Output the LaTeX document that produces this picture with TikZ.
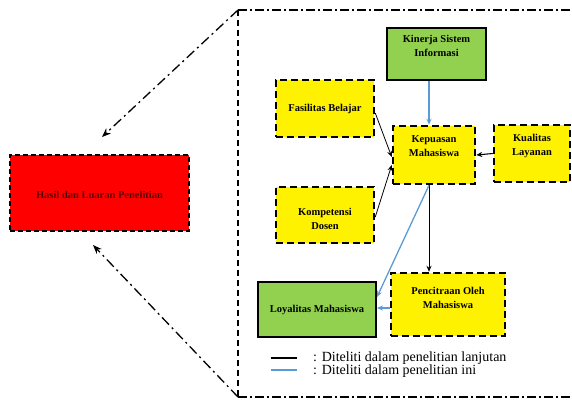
\documentclass[tikz,border=0pt]{standalone}
\usepackage{fontspec}
\setmainfont{Liberation Serif}
\usetikzlibrary{arrows.meta}
\definecolor{hijau}{HTML}{92D050}
\definecolor{biru}{HTML}{5B9BD5}
\definecolor{merahtua}{HTML}{5A0000}
\tikzset{
  kotakk/.style={draw=black, line width=2.5pt, dash pattern=on 7pt off 4pt, fill=yellow, inner sep=0pt},
  kotakh/.style={draw=black, line width=2pt, fill=hijau, inner sep=0pt},
  teks/.style={font=\fontsize{10.5}{14}\selectfont\bfseries, align=center, inner sep=0pt},
  panah/.style={-{Stealth[length=6pt,width=5pt]}, line width=0.8pt},
}
\begin{document}
\begin{tikzpicture}[x=1pt, y=-1pt]
    \useasboundingbox (0,0) rectangle (572,400);

    % Bingkai penelitian
    \coordinate (ftl) at (238,10);
    \coordinate (fbl) at (238,397);
    \coordinate (ftr) at (572,10);
    \coordinate (fbr) at (572,397);
    \draw[line width=1.3pt, dash pattern=on 6pt off 4pt] (ftl) -- (fbl);
    \draw[line width=1.5pt, dash pattern=on 9pt off 3pt on 2pt off 3pt] (ftl) -- (ftr);
    \draw[line width=1.5pt, dash pattern=on 9pt off 3pt on 2pt off 3pt] (fbl) -- (fbr);

    % Hasil
    \node[draw=black, line width=1.5pt, dash pattern=on 5pt off 3pt, fill=red, minimum width=179pt, minimum height=76pt, inner sep=0pt] (hasil) at (99.5,193) {};
    \node[teks, text=merahtua] at ([yshift=-2pt]hasil.center) {Hasil dan Luaran Penelitian};
    \coordinate (ujung1) at (102,137);
    \coordinate (ujung2) at (93,245);
    \draw[line width=1.3pt, dash pattern=on 10pt off 4pt on 2pt off 4pt, -{Stealth[length=9pt,width=7pt]}] (ftl) -- (ujung1);
    \draw[line width=1.3pt, dash pattern=on 10pt off 4pt on 2pt off 4pt, -{Stealth[length=9pt,width=7pt]}] (fbl) -- (ujung2);

    % Variabel
    \node[kotakh, minimum width=99pt, minimum height=52pt] (kin) at (436.5,54) {};
    \node[teks] at ([yshift=8pt]kin.center) {Kinerja Sistem\\Informasi};
    \node[kotakk, minimum width=98pt, minimum height=57pt] (fas) at (325,108.5) {};
    \node[teks] at (fas.center) {Fasilitas Belajar};
    \node[kotakk, minimum width=82pt, minimum height=58pt] (kep) at (434,155) {};
    \node[teks] at ([yshift=9pt]kep.center) {Kepuasan\\Mahasiswa};
    \node[kotakk, minimum width=76pt, minimum height=57pt] (kua) at (532,153.5) {};
    \node[teks] at ([yshift=8pt]kua.center) {Kualitas\\Layanan};
    \node[kotakk, minimum width=98pt, minimum height=56pt] (kom) at (325,215) {};
    \node[teks] at ([yshift=-3.5pt]kom.center) {Kompetensi\\Dosen};
    \node[kotakk, minimum width=114pt, minimum height=63pt] (pen) at (448,304.5) {};
    \node[teks] at ([yshift=6.5pt]pen.center) {Pencitraan Oleh\\Mahasiswa};
    \node[kotakh, minimum width=118pt, minimum height=55pt] (loy) at (317,309.5) {};
    \node[teks] at (loy.center) {Loyalitas Mahasiswa};

    % Hubungan
    \draw[panah, biru, line width=1.3pt] ([xshift=-7.5pt]kin.south) -- ([xshift=-5pt]kep.north);
    \draw[panah] ([yshift=-4.5pt]fas.east) -- ([yshift=-2pt]kep.west);
    \draw[panah] ([yshift=-2pt]kom.east) -- ([yshift=-10pt]kep.west);
    \draw[panah, line width=1.1pt] (kua.west) -- (kep.east);
    \draw[panah] ([xshift=-5pt]kep.south) -- ([xshift=-19pt]pen.north);
    \draw[panah, biru, line width=1.3pt] ([xshift=-5pt]kep.south) -- ([yshift=12.5pt]loy.east);
    \draw[panah, biru, line width=1.3pt] ([yshift=-3.5pt]pen.west) -- ([yshift=1.5pt]loy.east);

    % Keterangan
    \draw[line width=2pt] (271,358) -- (297,358);
    \draw[biru, line width=1.5pt] (271,370) -- (297,370);
    \node[anchor=west, inner sep=0pt, font=\fontsize{14}{14}\selectfont] (ket1) at (313,358) {: Diteliti dalam penelitian lanjutan};
    \node[anchor=west, inner sep=0pt, font=\fontsize{14}{14}\selectfont] (ket2) at (313,371) {: Diteliti dalam penelitian ini};
\end{tikzpicture}
\end{document}
